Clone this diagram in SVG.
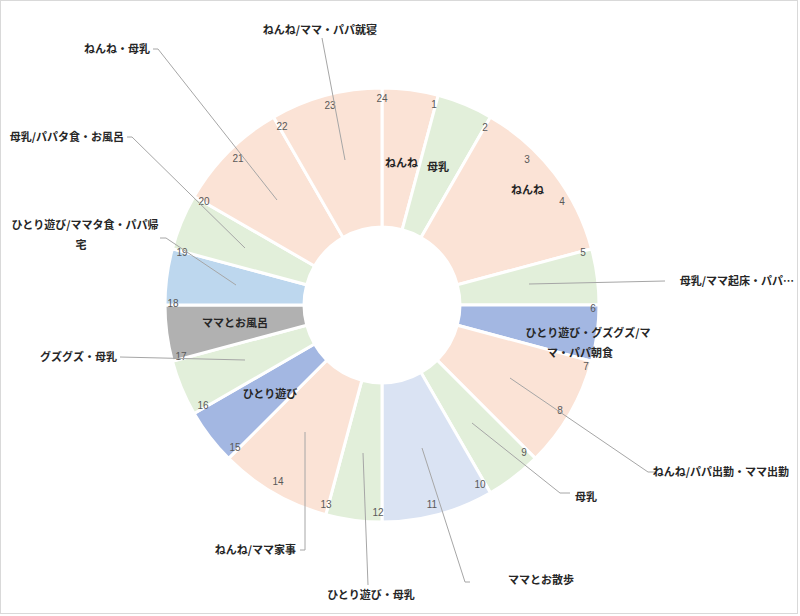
<svg xmlns="http://www.w3.org/2000/svg" width="800" height="616" viewBox="0 0 800 616">
<style>
.seg{stroke:#fff;stroke-width:3}
.pe{fill:#fbe3d6}.gr{fill:#e2efda}.bd{fill:#a3b7e2}.lv{fill:#dae3f3}.lb{fill:#bdd7ee}.gy{fill:#b1b1b1}
.h{font-family:"Liberation Sans",Arial,sans-serif;font-size:10px;fill:#595959;text-anchor:middle}
.l{font-family:"Noto Sans CJK JP","Liberation Sans",sans-serif;font-size:11px;font-weight:bold;fill:#262626}
.ld{stroke:#a6a6a6;stroke-width:1;fill:none}
</style>
<rect x="0.5" y="0.5" width="797" height="613" fill="#fff" stroke="#d9d9d9"/>
<g id="segments">
<path id="s0" class="seg pe" d="M382,88 A217,217 0 0 1 438.2,95.4 L402.2,229.7 A78,78 0 0 0 382,227 Z"/>
<path id="s1" class="seg gr" d="M438.2,95.4 A217,217 0 0 1 490.5,117.1 L421,237.5 A78,78 0 0 0 402.2,229.7 Z"/>
<path id="s2" class="seg pe" d="M490.5,117.1 A217,217 0 0 1 591.6,248.8 L457.3,284.8 A78,78 0 0 0 421,237.5 Z"/>
<path id="s5" class="seg gr" d="M591.6,248.8 A217,217 0 0 1 599,305 L460,305 A78,78 0 0 0 457.3,284.8 Z"/>
<path id="s6" class="seg bd" d="M599,305 A217,217 0 0 1 591.6,361.2 L457.3,325.2 A78,78 0 0 0 460,305 Z"/>
<path id="s7" class="seg pe" d="M591.6,361.2 A217,217 0 0 1 535.4,458.4 L437.2,360.2 A78,78 0 0 0 457.3,325.2 Z"/>
<path id="s9" class="seg gr" d="M535.4,458.4 A217,217 0 0 1 490.5,492.9 L421,372.5 A78,78 0 0 0 437.2,360.2 Z"/>
<path id="s10" class="seg lv" d="M490.5,492.9 A217,217 0 0 1 382,522 L382,383 A78,78 0 0 0 421,372.5 Z"/>
<path id="s12" class="seg gr" d="M382,522 A217,217 0 0 1 325.8,514.6 L361.8,380.3 A78,78 0 0 0 382,383 Z"/>
<path id="s13" class="seg pe" d="M325.8,514.6 A217,217 0 0 1 228.6,458.4 L326.8,360.2 A78,78 0 0 0 361.8,380.3 Z"/>
<path id="s15" class="seg bd" d="M228.6,458.4 A217,217 0 0 1 194.1,413.5 L314.5,344 A78,78 0 0 0 326.8,360.2 Z"/>
<path id="s16" class="seg gr" d="M194.1,413.5 A217,217 0 0 1 172.4,361.2 L306.7,325.2 A78,78 0 0 0 314.5,344 Z"/>
<path id="s17" class="seg gy" d="M172.4,361.2 A217,217 0 0 1 165,305 L304,305 A78,78 0 0 0 306.7,325.2 Z"/>
<path id="s18" class="seg lb" d="M165,305 A217,217 0 0 1 172.4,248.8 L306.7,284.8 A78,78 0 0 0 304,305 Z"/>
<path id="s19" class="seg gr" d="M172.4,248.8 A217,217 0 0 1 194.1,196.5 L314.5,266 A78,78 0 0 0 306.7,284.8 Z"/>
<path id="s20" class="seg pe" d="M194.1,196.5 A217,217 0 0 1 273.5,117.1 L343,237.5 A78,78 0 0 0 314.5,266 Z"/>
<path id="s22" class="seg pe" d="M273.5,117.1 A217,217 0 0 1 382,88 L382,227 A78,78 0 0 0 343,237.5 Z"/>
</g>
<g id="hours">
<text class="h" x="434" y="108">1</text><text class="h" x="485" y="131">2</text><text class="h" x="527" y="163">3</text>
<text class="h" x="562" y="205">4</text><text class="h" x="583" y="256">5</text><text class="h" x="593" y="312">6</text>
<text class="h" x="586" y="370">7</text><text class="h" x="560" y="414">8</text><text class="h" x="524" y="456">9</text>
<text class="h" x="480" y="488">10</text><text class="h" x="432" y="508">11</text><text class="h" x="378" y="516">12</text>
<text class="h" x="326" y="508">13</text><text class="h" x="278" y="485">14</text><text class="h" x="235" y="451">15</text>
<text class="h" x="203" y="409">16</text><text class="h" x="181" y="360">17</text><text class="h" x="173" y="307">18</text>
<text class="h" x="182" y="256">19</text><text class="h" x="204" y="205">20</text><text class="h" x="238" y="162">21</text>
<text class="h" x="282" y="130">22</text><text class="h" x="330" y="109">23</text><text class="h" x="382" y="102">24</text>
</g>
<g id="connectors">
<polyline class="ld" points="322,38 345,160"/>
<polyline class="ld" points="153,49 158,49 277,200"/>
<polyline class="ld" points="127,137 132,137 245,248"/>
<polyline class="ld" points="160,238 166,238 236,285"/>
<polyline class="ld" points="529,284 665,281"/>
<polyline class="ld" points="120,357 245,360"/>
<polyline class="ld" points="305,432 305,550 300,550"/>
<polyline class="ld" points="363,453 368,585"/>
<polyline class="ld" points="422,448 465,582 470,582"/>
<polyline class="ld" points="472,423 560,493 570,493"/>
<polyline class="ld" points="510,378 648,472 655,472"/>
</g>
<g id="labels">
<text class="l" x="385" y="167">ねんね</text>
<text class="l" x="427" y="171">母乳</text>
<text class="l" x="511" y="194">ねんね</text>
<text class="l" x="588" y="337" text-anchor="middle">ひとり遊び・グズグズ/マ</text>
<text class="l" x="580" y="357" text-anchor="middle">マ・パパ朝食</text>
<text class="l" x="235" y="327" text-anchor="middle">ママとお風呂</text>
<text class="l" x="270" y="398" text-anchor="middle">ひとり遊び</text>
<text class="l" x="320" y="34" text-anchor="middle">ねんね/ママ・パパ就寝</text>
<text class="l" x="150" y="53" text-anchor="end">ねんね・母乳</text>
<text class="l" x="124" y="141" text-anchor="end">母乳/パパタ食・お風呂</text>
<text class="l" x="85" y="229" text-anchor="middle">ひとり遊び/ママタ食・パパ帰</text>
<text class="l" x="81" y="249" text-anchor="middle">宅</text>
<text class="l" x="737" y="285" text-anchor="middle">母乳/ママ起床・パパ…</text>
<text class="l" x="117" y="361" text-anchor="end">グズグズ・母乳</text>
<text class="l" x="296" y="554" text-anchor="end">ねんね/ママ家事</text>
<text class="l" x="371" y="599" text-anchor="middle">ひとり遊び・母乳</text>
<text class="l" x="541" y="584" text-anchor="middle">ママとお散歩</text>
<text class="l" x="586" y="501" text-anchor="middle">母乳</text>
<text class="l" x="721" y="476" text-anchor="middle">ねんね/パパ出勤・ママ出勤</text>
</g>
</svg>
